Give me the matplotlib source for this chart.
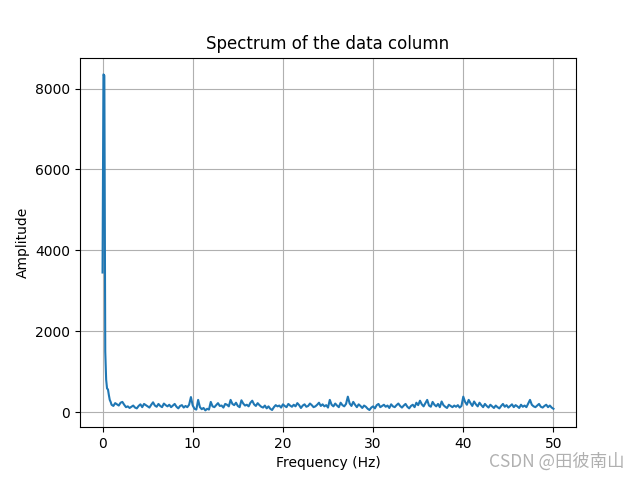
import numpy as np
import matplotlib.pyplot as plt

# Spitze bei niedriger Frequenz
peak_freq = [0.0, 0.1, 0.2, 0.3, 0.4, 0.5, 0.6, 0.7, 0.8, 0.9, 1.0]
peak_amp = [3450, 8350, 8320, 1500, 800, 580, 560, 420, 300, 250, 180]

# Rauschboden, 1.2 Hz bis 50 Hz in 0.2-Hz-Schritten
noise_freq = np.round(np.arange(1.2, 50.01, 0.2), 1)
noise_amp = [
    150, 220, 190, 160, 230, 250, 180, 120, 140, 100,
    130, 160, 110, 90, 150, 190, 120, 200, 170, 140,
    110, 180, 240, 160, 130, 200, 150, 120, 210, 170,
    140, 180, 120, 160, 200, 130, 90, 150, 170, 110,
    150, 120, 180, 370, 160, 80, 60, 300, 120, 70,
    100, 40, 80, 60, 250, 140, 120, 170, 220, 150,
    160, 110, 200, 180, 140, 300, 200, 170, 230, 150,
    120, 290, 210, 160, 180, 140, 230, 280, 190, 150,
    220, 170, 130, 110, 160, 90, 140, 80, 50, 120,
    170, 140, 160, 110, 190, 150, 120, 200, 160, 130,
    180, 140, 220, 170, 100, 160, 190, 130, 150, 210,
    170, 120, 140, 180, 230, 150, 190, 140, 170, 110,
    300, 180, 140, 210, 160, 120, 230, 170, 140, 200,
    380, 210, 150, 250, 180, 120, 190, 150, 100, 160,
    130, 80, 50, 110, 140, 90, 170, 200, 120, 150,
    180, 130, 160, 100, 190, 140, 120, 170, 210, 150,
    110, 160, 200, 130, 90, 150, 180, 120, 230, 170,
    280, 190, 140, 220, 300, 160, 130, 250, 180, 140,
    200, 120, 260, 170, 130, 100, 180, 150, 120, 160,
    130, 170, 110, 150, 380, 250, 180, 300, 220, 150,
    260, 190, 140, 230, 170, 120, 200, 150, 110, 180,
    140, 100, 160, 120, 90, 150, 200, 130, 170, 110,
    150, 190, 120, 170, 140, 100, 180, 130, 160, 120,
    210, 300, 180, 140, 120, 160, 200, 130, 110, 150,
    180, 120, 160, 110, 80,
]

freq = np.concatenate([peak_freq, noise_freq])
amp = np.concatenate([peak_amp, noise_amp])

fig, ax = plt.subplots(figsize=(6.4, 4.8), dpi=100)
ax.plot(freq, amp)
ax.set_title('Spectrum of the data column')
ax.set_xlabel('Frequency (Hz)')
ax.set_ylabel('Amplitude')
ax.grid(True)

# Wasserzeichen
fig.text(0.764, 0.028, 'CSDN @田彼南山', fontsize=12.5, color='#b0b0b0',
         family=['Noto Sans CJK SC', 'DejaVu Sans'])

fig.savefig('out.png')
